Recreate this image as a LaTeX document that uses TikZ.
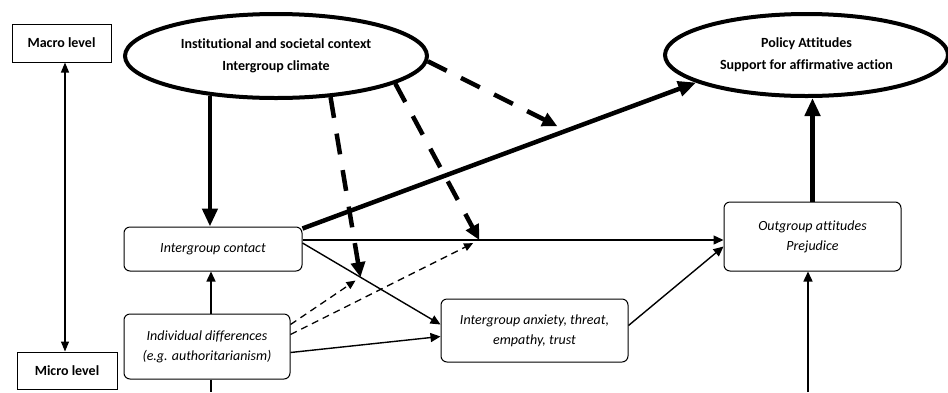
\documentclass[tikz,border=0pt]{standalone}
\usepackage{fontspec}
\setmainfont{Carlito}[Ligatures=NoCommon]
\usetikzlibrary{positioning}
\usetikzlibrary{shapes.geometric}
\usetikzlibrary{arrows.meta}
\usetikzlibrary{calc}
\tikzset{
  % The two level labels on the far left
  levelbox/.style={
    draw=black, line width=1pt, rectangle, align=center,
    font=\fontsize{14}{20}\selectfont\bfseries, inner sep=2pt,
    minimum height=38pt, minimum width=#1},
  % Macro-level constructs drawn as heavy ovals
  bigoval/.style={
    draw=black, line width=4pt, ellipse, align=center,
    font=\fontsize{14}{22}\selectfont\bfseries, inner sep=0pt,
    minimum height=84pt, minimum width=#1},
  % Micro-level variables in rounded boxes
  factor/.style={
    draw=black, line width=1pt, rounded corners=6pt, align=center,
    font=\fontsize{14}{20}\selectfont\itshape, inner sep=2pt,
    minimum width=#1},
  % Relationships
  link/.style={-{Triangle[length=10pt,width=9pt]}, line width=1.4pt},
  plainlink/.style={line width=1.4pt},
  twoway/.style={{Triangle[length=10pt,width=8pt]}-{Triangle[length=10pt,width=8pt]}, line width=1.2pt},
  strong/.style={-{Triangle[length=18pt,width=15pt]}, line width=4.5pt},
  weakmod/.style={-{Triangle[length=9pt,width=8pt]}, line width=1.3pt, dash pattern=on 7pt off 5pt},
  strongmod/.style={-{Triangle[length=15pt,width=14pt]}, line width=4.5pt, dash pattern=on 21pt off 16pt},
}

\begin{document}
\begin{tikzpicture}[x=1pt, y=-1pt]
\useasboundingbox (0,0) rectangle (948,392);

\node[levelbox=99pt] (macro) at (61.5,43) {Macro level};
\node[levelbox=100pt, minimum height=37pt] (micro) at (67,370.5) {Micro level};

\node[bigoval=302pt] (context) at (276,56)
  {Institutional and societal context\\Intergroup climate};
\node[bigoval=283pt, minimum height=82pt] (policy) at (806.5,55)
  {Policy Attitudes\\Support for affirmative action};

\node[factor=178pt, minimum height=44pt] (contact) at (213,249) {Intergroup contact};
\node[factor=166pt, minimum height=65pt, below=42pt of contact.south west, anchor=north west] (indiv)
  {Individual differences\\(e.g. authoritarianism)};
\node[factor=187pt, minimum height=63pt] (anxiety) at (534.5,330.5)
  {Intergroup anxiety, threat,\\empathy, trust};
\node[factor=177pt, minimum height=69pt] (outgroup) at (812.5,236.5)
  {Outgroup attitudes\\Prejudice};

% ends of the paths and the points the moderators aim at
\coordinate (exitL) at (211,392);
\coordinate (exitR) at (808,392);
\coordinate (cA) at ([yshift=6pt]contact.east);
\coordinate (aA) at ([yshift=6pt]anxiety.west);
\coordinate (cB) at ([yshift=9pt]contact.east);
\coordinate (oB) at (cB -| outgroup.west);
\coordinate (cC) at ([yshift=-2pt]contact.north east);
\coordinate (modA) at ($(cA)!0.42!(aA)$);
\coordinate (modB) at ($(cB)!0.42!(oB)$);
\coordinate (modC) at ($(cC)!0.67!(policy.194)$);

\draw[twoway] ([xshift=3.5pt]macro.south) -- ([xshift=-2pt]micro.north);

\draw[strong] (context.211) -- (context.211 |- contact.north);
\draw[strong] (cC) -- (policy.194);
\draw[strong] (outgroup.north) -- (outgroup.north |- policy.south);

\draw[link] (cB) -- (oB);
\draw[link] (cA) -- (aA);
\draw[link] ([yshift=-6pt]indiv.east) -- ([yshift=-6pt]anxiety.west);
\draw[link] ([yshift=5pt]anxiety.east) -- ([yshift=-10pt]outgroup.west);
\draw[link] (exitL |- indiv.north) -- (exitL |- contact.south);
\draw[plainlink] (exitL |- indiv.south) -- (exitL);
\draw[link] (exitR) -- (exitR |- outgroup.south);

\draw[weakmod, shorten >=6pt] ([yshift=22pt]indiv.east) -- (modA);
\draw[weakmod, shorten >=7pt] ([yshift=12pt]indiv.east) -- (modB);
\draw[strongmod] (context.323) -- (modA);
\draw[strongmod] (context.347) -- (modB);
\draw[strongmod, shorten >=10pt] (context.358) -- (modC);

\end{tikzpicture}
\end{document}
